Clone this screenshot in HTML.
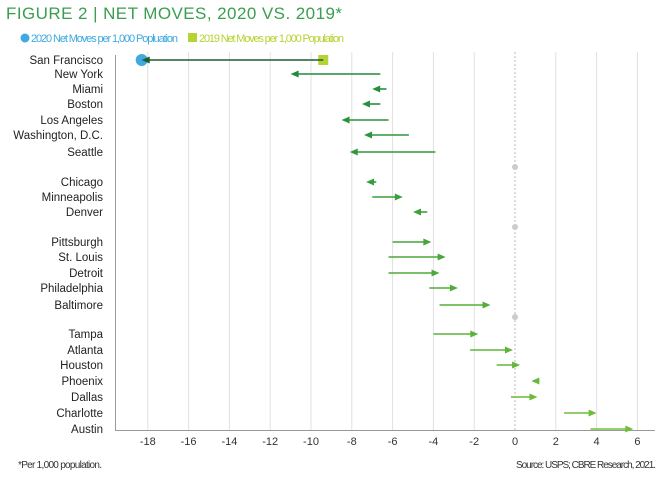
<!DOCTYPE html>
<html><head><meta charset="utf-8"><style>
html,body{margin:0;padding:0;background:#fff;width:672px;height:487px;overflow:hidden}
svg{display:block;font-family:"Liberation Sans",sans-serif}
</style></head><body>
<svg id="chart" width="672" height="487">
<text x="6" y="19" font-size="17" fill="#3a9e4f" letter-spacing="2" textLength="338">FIGURE 2 | NET MOVES, 2020 VS. 2019*</text>
<circle cx="25" cy="38" r="4.5" fill="#3fa9e0"/>
<text x="31" y="42" font-size="11" fill="#3fa9e0" textLength="147">2020 Net Moves per 1,000 Popluation</text>
<rect x="188" y="33" width="9" height="9" fill="#b5d334"/>
<text x="199" y="42" font-size="11" fill="#b5d334" textLength="145">2019 Net Moves per 1,000 Population</text>
<g id="grid"></g><g id="marks"></g><g id="labels"></g>
<text x="18" y="468" font-size="10" fill="#333" textLength="84">*Per 1,000 population.</text>
<text x="656" y="468" font-size="10" fill="#333" text-anchor="end" textLength="140">Source: USPS; CBRE Research, 2021.</text>
</svg>
<script>
const cities=["San Francisco","New York","Miami","Boston","Los Angeles","Washington, D.C.","Seattle","","Chicago","Minneapolis","Denver","","Pittsburgh","St. Louis","Detroit","Philadelphia","Baltimore","","Tampa","Atlanta","Houston","Phoenix","Dallas","Charlotte","Austin"];
const rowY=[60,74,89,104,120,135,152,167,182,197,212,227,242,257,273,288,305,317,334,350,365,381,397,413,429];
const v2019=[-9.4,-6.6,-6.3,-6.6,-6.2,-5.2,-3.9,null,-6.8,-7.0,-4.3,null,-6.0,-6.2,-6.2,-4.2,-3.7,null,-4.0,-2.2,-0.9,1.2,-0.2,2.4,3.7];
const v2020=[-18.3,-11.0,-7.0,-7.5,-8.5,-7.4,-8.1,null,-7.3,-5.5,-5.0,null,-4.1,-3.4,-3.7,-2.8,-1.2,null,-1.8,-0.1,0.25,0.8,1.1,4.0,5.8];
const ticks=[-18,-16,-14,-12,-10,-8,-6,-4,-2,0,2,4,6];
const NS="http://www.w3.org/2000/svg";
const X=v=>515+v*20.4;
function mk(tag,attrs,parent,txt){const e=document.createElementNS(NS,tag);for(const k in attrs)e.setAttribute(k,attrs[k]);if(txt!=null)e.textContent=txt;parent.appendChild(e);return e;}
const grid=document.getElementById('grid'),marks=document.getElementById('marks'),labels=document.getElementById('labels');
ticks.forEach(t=>{
  if(t!==0){const g=mk('line',{x1:X(t),x2:X(t),y1:52,y2:430,stroke:'#e0e0e0','stroke-width':1},grid);
  
  }
  const l=mk('text',{x:X(t),y:445,'font-size':11,fill:'#333','text-anchor':'middle'},grid,String(t));
  
  
});
const z=mk('line',{x1:X(0),x2:X(0),y1:52,y2:430,stroke:'#bbb','stroke-width':1,'stroke-dasharray':'2,2'},grid);


const ax=mk('line',{x1:115,x2:655,y1:430.5,y2:430.5,stroke:'#999','stroke-width':1},grid);


const ay=mk('line',{x1:115.5,x2:115.5,y1:55,y2:431,stroke:'#999','stroke-width':1},grid);


function col(i){const t=i/24;const a=[30,138,62],b=[112,192,58];return `rgb(${a.map((c,k)=>Math.round(c+(b[k]-c)*t)).join(',')})`;}
cities.forEach((c,i)=>{
  const y=rowY[i];
  if(c===""){const d=mk('circle',{cx:X(0),cy:y,r:3,fill:'#ccc'},marks);
    
    return;}
  const lb=mk('text',{x:103,y:y+4,'font-size':11.5,fill:'#222','text-anchor':'end'},labels,c);
  
  
  const x1=X(v2019[i]),x2=X(v2020[i]),dir=x2>x1?1:-1,cl=col(i);
  if(i===0){
    const sq=mk('rect',{x:x1-5,y:y-5,width:10,height:10,fill:'#b5d334'},marks);
    
    
    const ci=mk('circle',{cx:x2,cy:y,r:6,fill:'#3fa9e0'},marks);
    
    
  }
  const ln=mk('line',{x1:x1,x2:x2-dir*6,y1:y,y2:y,stroke:i===0?'#1a5e30':cl,'stroke-width':1.6},marks);
  
  
  const h=mk('polygon',{points:`${x2},${y} ${x2-dir*8},${y-3.5} ${x2-dir*8},${y+3.5}`,fill:i===0?'#1a5e30':cl},marks);
  
  
});
</script>
</body></html>
